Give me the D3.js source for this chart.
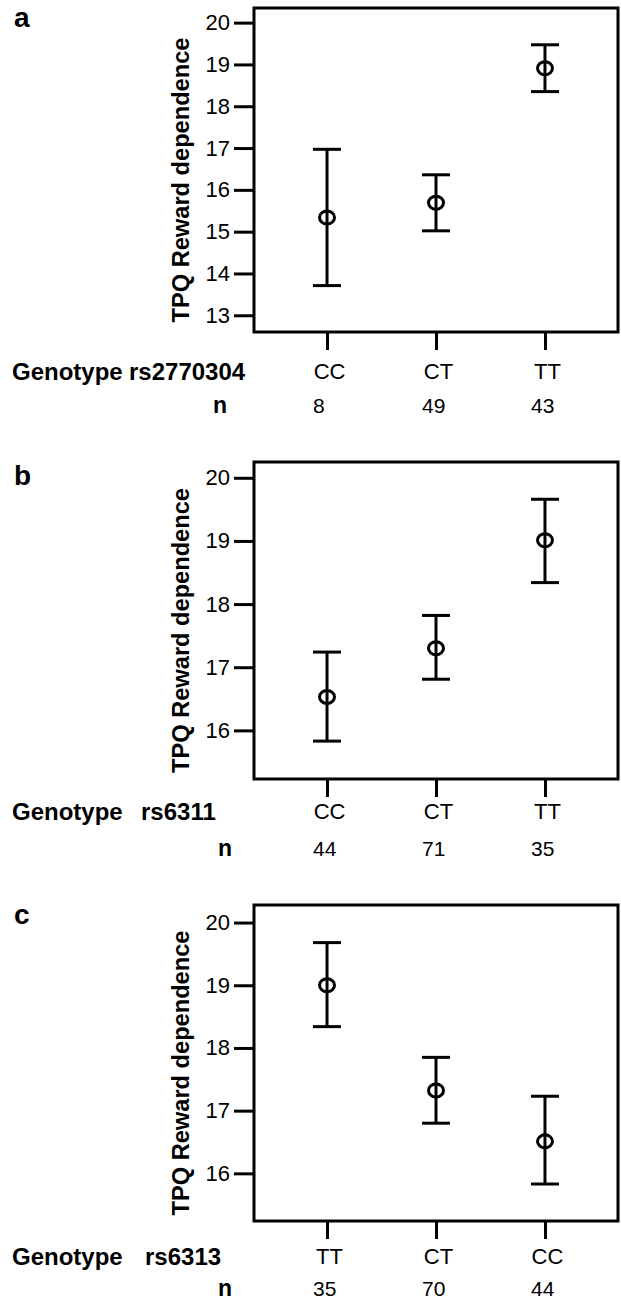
<!DOCTYPE html>
<html>
<head>
<meta charset="utf-8">
<script src="https://d3js.org/d3.v7.min.js"></script>
<style>
body { margin: 0; background: #fff; }
text { font-family: "Liberation Sans", Arial, sans-serif; fill: #000; }
</style>
</head>
<body>
<div id="genotype_chart"></div>
<script>
//panel labels and snp names
var panelLetters = ["a", "b", "c"];
var snpNames = ["rs2770304", "rs6311", "rs6313"];
var yTitle = "TPQ Reward dependence";

//panel a (rs2770304)
var genotypesA = ["CC", "CT", "TT"];
var meansA = [15.34, 15.69, 18.91];
var lowerA = [13.71, 15.02, 18.35];
var upperA = [16.97, 16.36, 19.47];
var countsA = [8, 49, 43];
var ticksA = [13, 14, 15, 16, 17, 18, 19, 20];
var domainA = [12.6, 20.35];

//panel b (rs6311)
var genotypesB = ["CC", "CT", "TT"];
var meansB = [16.53, 17.30, 19.01];
var lowerB = [15.83, 16.81, 18.34];
var upperB = [17.24, 17.82, 19.66];
var countsB = [44, 71, 35];
var ticksB = [16, 17, 18, 19, 20];
var domainB = [15.23, 20.25];

//panel c (rs6313)
var genotypesC = ["TT", "CT", "CC"];
var meansC = [19.00, 17.32, 16.51];
var lowerC = [18.34, 16.80, 15.83];
var upperC = [19.68, 17.85, 17.23];
var countsC = [35, 70, 44];
var ticksC = [16, 17, 18, 19, 20];
var domainC = [15.24, 20.28];

//layout of each panel (pixels)
var boxLeft = 254, boxRight = 618;
var layout = [
  {top: 8,   bottom: 332,  letterY: 27,  labelY: 379,  nY: 413,  snpX: 129, nX: 220},
  {top: 462, bottom: 779,  letterY: 485, labelY: 819,  nY: 856,  snpX: 141, nX: 225},
  {top: 905, bottom: 1221, letterY: 924, labelY: 1264, nY: 1296, snpX: 145, nX: 225}
];

var panels = [
  {genotypes: genotypesA, means: meansA, lower: lowerA, upper: upperA, counts: countsA, ticks: ticksA, domain: domainA},
  {genotypes: genotypesB, means: meansB, lower: lowerB, upper: upperB, counts: countsB, ticks: ticksB, domain: domainB},
  {genotypes: genotypesC, means: meansC, lower: lowerC, upper: upperC, counts: countsC, ticks: ticksC, domain: domainC}
];

//appending svg object to body
var svg = d3.select("#genotype_chart")
  .append("svg")
  .attr("width", 621)
  .attr("height", 1302);

panels.forEach(function(p, i) {
  var L = layout[i];
  var g = svg.append("g");

  //scales
  var x = d3.scalePoint().domain(p.genotypes).range([boxLeft, boxRight]).padding(0.67);
  var y = d3.scaleLinear().domain(p.domain).range([L.bottom, L.top]);

  //y axis
  var yAxis = g.append("g")
    .attr("transform", "translate(" + boxLeft + ",0)")
    .call(d3.axisLeft(y).tickValues(p.ticks).tickSize(20).tickPadding(4).tickFormat(d3.format("d")));
  yAxis.select(".domain").remove();
  yAxis.selectAll(".tick line").attr("stroke", "#000").attr("stroke-width", 3);
  yAxis.selectAll(".tick text").style("font-size", "22px").attr("fill", "#000");

  //x axis with genotype labels
  var xAxis = g.append("g")
    .attr("transform", "translate(0," + L.bottom + ")")
    .call(d3.axisBottom(x).tickSize(18));
  xAxis.select(".domain").remove();
  xAxis.selectAll(".tick line").attr("stroke", "#000").attr("stroke-width", 3);
  xAxis.selectAll(".tick text")
    .attr("y", L.labelY - L.bottom)
    .attr("dy", 0)
    .attr("dx", 2)
    .style("font-size", "22px")
    .attr("fill", "#000");

  //frame
  g.append("rect")
    .attr("x", boxLeft)
    .attr("y", L.top)
    .attr("width", boxRight - boxLeft)
    .attr("height", L.bottom - L.top)
    .attr("fill", "none")
    .attr("stroke", "#000")
    .attr("stroke-width", 3);

  //error bars
  var rows = p.genotypes.map(function(d, k) {
    return {g: d, mean: p.means[k], lo: p.lower[k], hi: p.upper[k], n: p.counts[k]};
  });
  var bars = g.selectAll(".bar").data(rows).enter().append("g").attr("class", "bar");
  bars.append("line")
    .attr("x1", function(d) { return x(d.g); })
    .attr("x2", function(d) { return x(d.g); })
    .attr("y1", function(d) { return y(d.lo); })
    .attr("y2", function(d) { return y(d.hi); })
    .attr("stroke", "#000").attr("stroke-width", 3);
  ["lo", "hi"].forEach(function(k) {
    bars.append("line")
      .attr("x1", function(d) { return x(d.g) - 14; })
      .attr("x2", function(d) { return x(d.g) + 14; })
      .attr("y1", function(d) { return y(d[k]); })
      .attr("y2", function(d) { return y(d[k]); })
      .attr("stroke", "#000").attr("stroke-width", 3);
  });
  bars.append("ellipse")
    .attr("cx", function(d) { return x(d.g); })
    .attr("cy", function(d) { return y(d.mean); })
    .attr("rx", 7.5)
    .attr("ry", 6.5)
    .attr("fill", "none")
    .attr("stroke", "#000")
    .attr("stroke-width", 3);

  //n counts
  g.selectAll(".count").data(rows).enter().append("text")
    .attr("x", function(d) { return x(d.g) - 14; })
    .attr("y", L.nY)
    .style("font-size", "21px")
    .text(function(d) { return d.n; });

  //panel letter
  g.append("text")
    .attr("x", 14)
    .attr("y", L.letterY)
    .style("font-size", "28px")
    .style("font-weight", "bold")
    .text(panelLetters[i]);

  //genotype row label
  g.append("text")
    .attr("x", 12)
    .attr("y", L.labelY + 1)
    .style("font-size", "24px")
    .style("font-weight", "bold")
    .text("Genotype");
  g.append("text")
    .attr("x", L.snpX)
    .attr("y", L.labelY + 1)
    .style("font-size", "24px")
    .style("font-weight", "bold")
    .text(snpNames[i]);

  //n row label
  g.append("text")
    .attr("x", L.nX)
    .attr("y", L.nY)
    .attr("text-anchor", "middle")
    .style("font-size", "23px")
    .style("font-weight", "bold")
    .text("n");

  //y axis title
  g.append("text")
    .attr("transform", "translate(189," + ((L.top + L.bottom) / 2 + 10) + ") rotate(-90)")
    .attr("text-anchor", "middle")
    .attr("textLength", 285)
    .attr("lengthAdjust", "spacingAndGlyphs")
    .style("font-size", "23px")
    .style("font-weight", "bold")
    .text(yTitle);
});
</script>
</body>
</html>
